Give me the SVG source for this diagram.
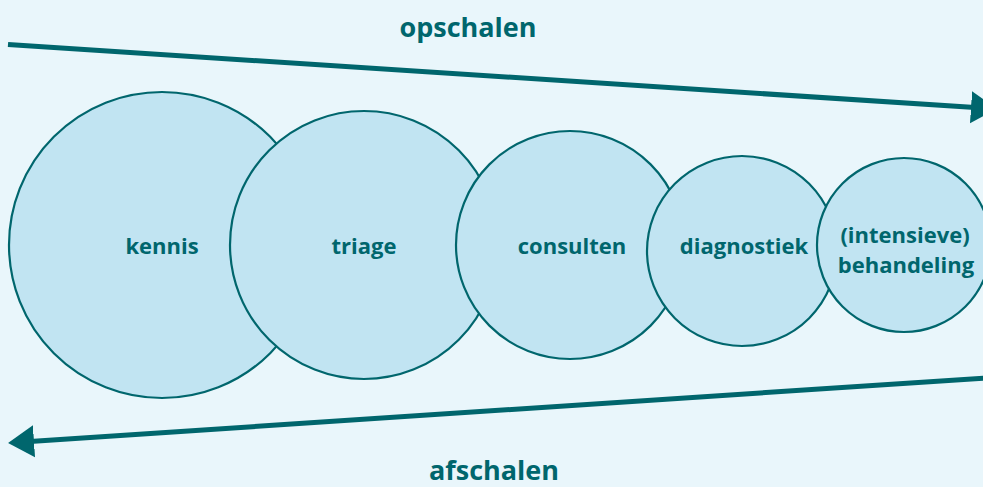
<svg xmlns="http://www.w3.org/2000/svg" width="983" height="487" viewBox="0 0 983 487">
<style>
.c{fill:#c1e4f2;stroke:#00666d;stroke-width:2.2}
.t{font-family:"Open Sans","Noto Sans",sans-serif;font-weight:700;fill:#00666d;text-anchor:middle}
.l{font-size:22px}
.h{font-size:27px}
.a{stroke:#00666d;stroke-width:5;fill:none}
</style>
<defs>
<marker id="ah" markerUnits="userSpaceOnUse" markerWidth="30" markerHeight="34" refX="4" refY="17" orient="auto">
<path d="M0,1 L26,17 L0,33 Z" fill="#00666d"/>
</marker>
</defs>
<rect width="983" height="487" fill="#e9f6fb"/>
<g id="connectors">
<line class="a" x1="8" y1="44.5" x2="975" y2="107.5" marker-end="url(#ah)"/>
<line class="a" x1="985" y1="378" x2="30" y2="441.5" marker-end="url(#ah)"/>
</g>
<g id="kennis"><circle class="c" cx="162" cy="245" r="153"/><text class="t l" x="162" y="254">kennis</text></g>
<g id="triage"><circle class="c" cx="364" cy="245" r="134"/><text class="t l" x="364" y="254">triage</text></g>
<g id="consulten"><circle class="c" cx="570" cy="245" r="114"/><text class="t l" x="572" y="254">consulten</text></g>
<g id="diagnostiek"><circle class="c" cx="742" cy="251" r="95"/><text class="t l" x="744" y="254">diagnostiek</text></g>
<g id="behandeling"><circle class="c" cx="904" cy="245" r="87"/><text class="t l" x="905" y="243">(intensieve)</text><text class="t l" x="906" y="273">behandeling</text></g>
<g id="labels">
<text class="t h" x="468" y="37">opschalen</text>
<text class="t h" x="494" y="480">afschalen</text>
</g>
</svg>
